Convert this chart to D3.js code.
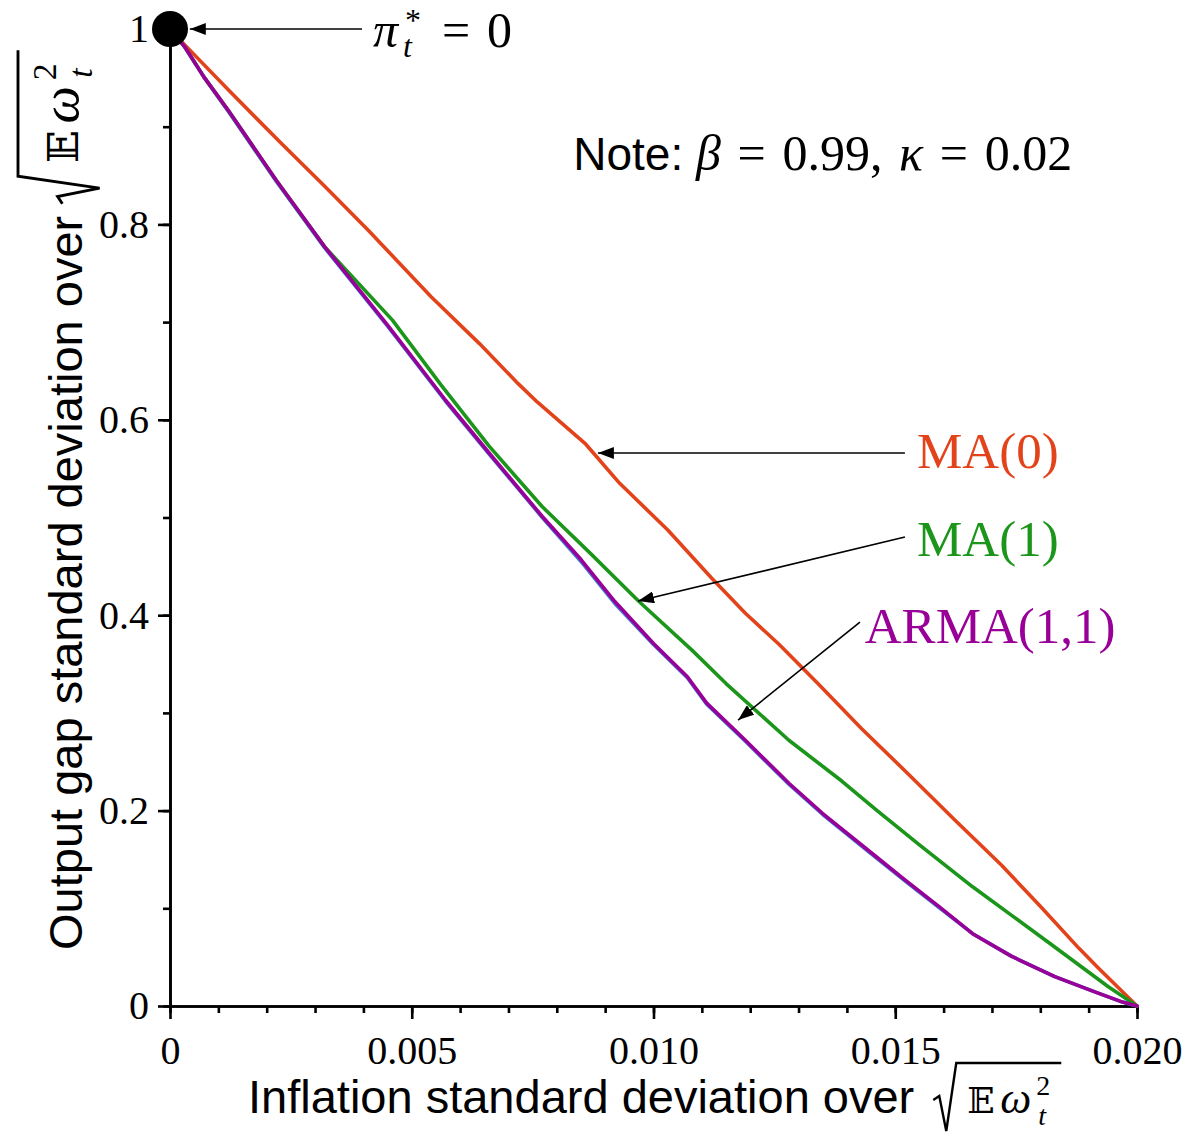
<!DOCTYPE html>
<html>
<head>
<meta charset="utf-8">
<script src="https://cdn.jsdelivr.net/npm/d3@7"></script>
<style>
  body { margin: 0; background: #fff; }
</style>
</head>
<body>
<div id="chart"></div>
<script>
// series: [inflation sd, output gap sd]
var ma0 = [[0, 1], [0.0003, 0.984], [0.0012, 0.938], [0.0023, 0.883], [0.0032, 0.839], [0.0041, 0.794],
  [0.0054, 0.726], [0.0064, 0.678], [0.0072, 0.637], [0.0076, 0.618], [0.0086, 0.575], [0.0093, 0.535],
  [0.0103, 0.487], [0.0112, 0.438], [0.0119, 0.402], [0.0126, 0.370], [0.0134, 0.330], [0.0143, 0.284],
  [0.0153, 0.236], [0.0162, 0.192], [0.0172, 0.144], [0.0180, 0.102], [0.0188, 0.059], [0.0192, 0.039],
  [0.0200, 0]]
var ma1 = [[0, 1], [0.0003, 0.982], [0.0007, 0.951], [0.0012, 0.917], [0.0022, 0.845], [0.0032, 0.777],
  [0.0046, 0.702], [0.0056, 0.636], [0.0066, 0.573], [0.0077, 0.511], [0.0087, 0.463], [0.0097, 0.414],
  [0.0108, 0.364], [0.0115, 0.330], [0.0128, 0.272], [0.0139, 0.230], [0.0146, 0.201], [0.0155, 0.165],
  [0.0166, 0.122], [0.0174, 0.093], [0.0182, 0.064], [0.0188, 0.042], [0.0194, 0.020], [0.0200, 0]]
var ar1 = [[0, 1], [0.0003, 0.982], [0.0007, 0.951], [0.0012, 0.916], [0.0022, 0.844], [0.0032, 0.776],
  [0.0045, 0.696], [0.0057, 0.619], [0.0066, 0.565], [0.0077, 0.500], [0.0085, 0.455], [0.0092, 0.412],
  [0.0100, 0.370], [0.0107, 0.336], [0.0111, 0.309], [0.0119, 0.271], [0.0128, 0.227], [0.0135, 0.196],
  [0.0146, 0.152], [0.0152, 0.128], [0.0159, 0.101], [0.0166, 0.074], [0.0174, 0.051], [0.0183, 0.030],
  [0.0191, 0.015], [0.0197, 0.004], [0.0200, 0]]
var arma11 = [[0, 1], [0.0003, 0.982], [0.0007, 0.951], [0.0012, 0.917], [0.0022, 0.845], [0.0032, 0.777],
  [0.0045, 0.697], [0.0057, 0.620], [0.0066, 0.566], [0.0077, 0.501], [0.0085, 0.457], [0.0092, 0.414],
  [0.0100, 0.371], [0.0107, 0.337], [0.0111, 0.310], [0.0119, 0.272], [0.0128, 0.228], [0.0135, 0.197],
  [0.0146, 0.153], [0.0152, 0.129], [0.0159, 0.102], [0.0166, 0.074], [0.0174, 0.051], [0.0183, 0.030],
  [0.0191, 0.015], [0.0197, 0.004], [0.0200, 0]]

var seriesNames = ['AR(1)', 'MA(0)', 'MA(1)', 'ARMA(1,1)']
var seriesData = [ar1, ma0, ma1, arma11]
var seriesColors = ['#3d7fd9', '#e2431b', '#1b961b', '#980098']

var xTicks = [0, 0.005, 0.01, 0.015, 0.02]
var xTickLabels = ['0', '0.005', '0.010', '0.015', '0.020']
var xMinorTicks = d3.range(0, 21).map(function(i) { return i / 1000 })
var yTicks = [0, 0.2, 0.4, 0.6, 0.8, 1]
var yTickLabels = ['0', '0.2', '0.4', '0.6', '0.8', '1']
var yMinorTicks = d3.range(0, 11).map(function(i) { return i / 10 })

// callouts (in data units)
var calloutLabels = ['MA(0)', 'MA(1)', 'ARMA(1,1)']
var calloutColors = ['#e2431b', '#1b961b', '#980098']
var calloutText = [[0.01545, 0.551], [0.01545, 0.461], [0.01437, 0.372]]
var calloutFrom = [[0.0152, 0.566], [0.0152, 0.480], [0.01427, 0.393]]
var calloutTo = [[0.00885, 0.566], [0.00968, 0.4145], [0.01175, 0.2927]]
var optimum = [0, 1]
var optimumFrom = [0.00397, 1]
var optimumTo = [0.00041, 1]
var optimumText = [0.0042, 0.9816]
var noteAt = [0.00834, 0.8557]

var width = 1191
var height = 1132
var serif = '"Liberation Serif", "DejaVu Serif", serif'
var sans = '"Liberation Sans", Arial, sans-serif'

var svg = d3
  .select('#chart')
  .append('svg')
  .attr('width', width)
  .attr('height', height)

var xPositionScale = d3.scaleLinear().domain([0, 0.02]).range([170, 1137])
var yPositionScale = d3.scaleLinear().domain([0, 1]).range([1006, 29])

svg
  .append('defs')
  .append('marker')
  .attr('id', 'arrow')
  .attr('viewBox', '0 0 16 12')
  .attr('refX', 16)
  .attr('refY', 6)
  .attr('markerWidth', 16)
  .attr('markerHeight', 12)
  .attr('markerUnits', 'userSpaceOnUse')
  .attr('orient', 'auto')
  .append('path')
  .attr('d', 'M0,0 L16,6 L0,12 Z')
  .attr('fill', '#000')

// minor ticks
svg
  .append('g')
  .attr('class', 'axis x-minor')
  .attr('transform', 'translate(0,' + yPositionScale(0) + ')')
  .call(d3.axisBottom(xPositionScale).tickValues(xMinorTicks).tickSize(7).tickSizeOuter(0).tickFormat(''))
svg
  .append('g')
  .attr('class', 'axis y-minor')
  .attr('transform', 'translate(' + xPositionScale(0) + ',0)')
  .call(d3.axisLeft(yPositionScale).tickValues(yMinorTicks).tickSize(7).tickSizeOuter(0).tickFormat(''))

// major ticks
var xAxis = d3
  .axisBottom(xPositionScale)
  .tickValues(xTicks)
  .tickSize(13)
  .tickSizeOuter(0)
  .tickPadding(17)
  .tickFormat(function(d, i) { return xTickLabels[i] })
svg
  .append('g')
  .attr('class', 'axis x-axis')
  .attr('transform', 'translate(0,' + yPositionScale(0) + ')')
  .call(xAxis)

var yAxis = d3
  .axisLeft(yPositionScale)
  .tickValues(yTicks)
  .tickSize(12)
  .tickSizeOuter(0)
  .tickPadding(9)
  .tickFormat(function(d, i) { return yTickLabels[i] })
svg
  .append('g')
  .attr('class', 'axis y-axis')
  .attr('transform', 'translate(' + xPositionScale(0) + ',0)')
  .call(yAxis)

svg.selectAll('.axis path, .axis line').attr('stroke', '#000').attr('stroke-width', 2.6)
svg.selectAll('.axis text').attr('font-family', serif).attr('font-size', 40).attr('fill', '#000')

// curves
var line = d3
  .line()
  .x(function(d) { return xPositionScale(d[0]) })
  .y(function(d) { return yPositionScale(d[1]) })

seriesData.forEach(function(data, i) {
  svg
    .append('path')
    .datum(data)
    .attr('d', line)
    .attr('fill', 'none')
    .attr('stroke', seriesColors[i])
    .attr('stroke-width', 3.6)
    .attr('stroke-linejoin', 'round')
    .attr('stroke-linecap', 'round')
})

// the pi* = 0 point
svg
  .append('circle')
  .attr('cx', xPositionScale(optimum[0]))
  .attr('cy', yPositionScale(optimum[1]))
  .attr('r', 18)
  .attr('fill', '#000')

function arrow(from, to) {
  svg
    .append('line')
    .attr('x1', xPositionScale(from[0]))
    .attr('y1', yPositionScale(from[1]))
    .attr('x2', xPositionScale(to[0]))
    .attr('y2', yPositionScale(to[1]))
    .attr('stroke', '#000')
    .attr('stroke-width', 1.6)
    .attr('marker-end', 'url(#arrow)')
}

arrow(optimumFrom, optimumTo)
var px = xPositionScale(optimumText[0])
var py = yPositionScale(optimumText[1])
svg.append('text').attr('x', px).attr('y', py).text('π')
  .attr('font-family', serif).attr('font-style', 'italic').attr('font-size', 50)
svg.append('text').attr('x', px + 32).attr('y', py - 16).text('*')
  .attr('font-family', serif).attr('font-size', 32)
svg.append('text').attr('x', px + 30).attr('y', py + 10).text('t')
  .attr('font-family', serif).attr('font-style', 'italic').attr('font-size', 32)
svg.append('text').attr('x', px + 69).attr('y', py).text('=\u20040')
  .attr('font-family', serif).attr('font-size', 50)

calloutLabels.forEach(function(label, i) {
  arrow(calloutFrom[i], calloutTo[i])
  svg
    .append('text')
    .attr('x', xPositionScale(calloutText[i][0]))
    .attr('y', yPositionScale(calloutText[i][1]))
    .text(label)
    .attr('font-family', serif)
    .attr('font-size', 51)
    .attr('fill', calloutColors[i])
})

// note
var note = svg
  .append('text')
  .attr('x', xPositionScale(noteAt[0]))
  .attr('y', yPositionScale(noteAt[1]))
  .attr('font-family', serif)
  .attr('font-size', 50)
note.append('tspan').text('Note: ').attr('font-family', sans).attr('font-size', 46)
note.append('tspan').text('β').attr('font-style', 'italic')
note.append('tspan').text('\u2004=\u20040.99,\u2004')
note.append('tspan').text('κ').attr('font-style', 'italic')
note.append('tspan').text('\u2004=\u20040.02')

// sqrt(E w_t^2), drawn in a local frame with the baseline at y = 0
function sqrtTerm(g, k) {
  var s = g.append('g').attr('transform', 'scale(' + k + ')')
  s.append('path')
    .attr('d', 'M0,-13 L6,-17 L13,18 L23,-50 H128')
    .attr('fill', 'none')
    .attr('stroke', '#000')
    .attr('stroke-width', 2.4)
  s.append('text').attr('x', 34).attr('y', 0).text('𝔼')
    .attr('font-family', '"DejaVu Serif", "DejaVu Sans", serif').attr('font-size', 36)
  s.append('text').attr('x', 67).attr('y', 0).text('ω')
    .attr('font-family', serif).attr('font-style', 'italic').attr('font-size', 44)
  s.append('text').attr('x', 103).attr('y', -18).text('2')
    .attr('font-family', serif).attr('font-size', 28)
  s.append('text').attr('x', 105).attr('y', 12).text('t')
    .attr('font-family', serif).attr('font-style', 'italic').attr('font-size', 28)
}

// x title
var xTitle = svg.append('g').attr('transform', 'translate(248,1113)')
var xt = xTitle
  .append('text')
  .text('Inflation standard deviation over')
  .attr('font-family', sans)
  .attr('font-size', 47)
var xLen = xt.node().getComputedTextLength()
sqrtTerm(xTitle.append('g').attr('transform', 'translate(' + (xLen + 19) + ',0)'), 1)

// y title
var yTitle = svg.append('g').attr('transform', 'translate(82,950) rotate(-90)')
var yt = yTitle
  .append('text')
  .text('Output gap standard deviation over')
  .attr('font-family', sans)
  .attr('font-size', 47)
var yLen = yt.node().getComputedTextLength()
sqrtTerm(yTitle.append('g').attr('transform', 'translate(' + (yLen + 12) + ',-4)'), 1.2)
</script>
</body>
</html>
